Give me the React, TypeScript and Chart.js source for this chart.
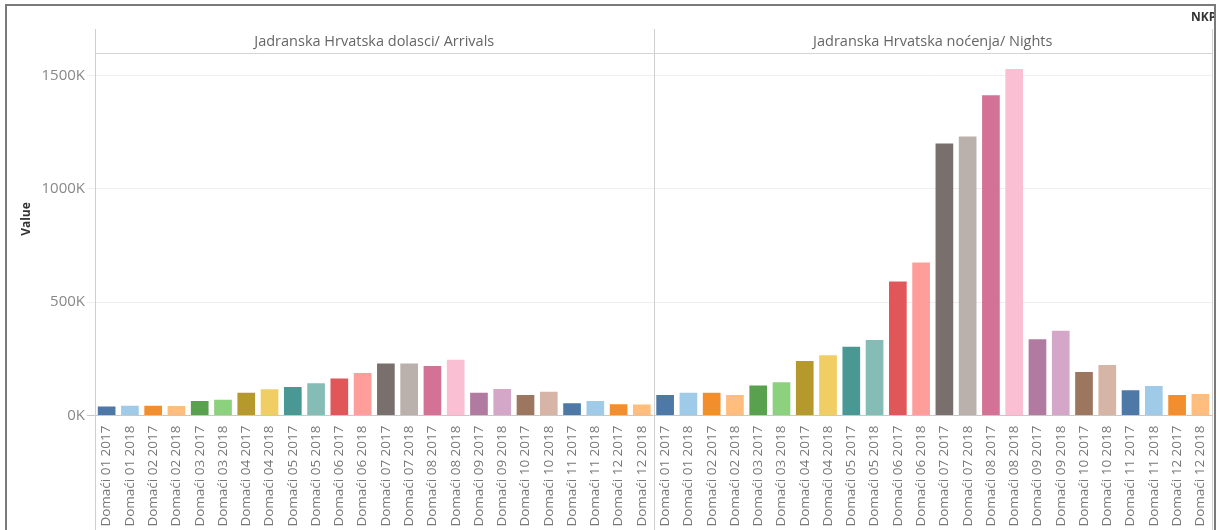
import React, { useEffect, useRef } from "react";
import { Chart, registerables } from "chart.js";

Chart.register(...registerables);

const months: string[] = [
  "Domaći 01 2017", "Domaći 01 2018", "Domaći 02 2017", "Domaći 02 2018",
  "Domaći 03 2017", "Domaći 03 2018", "Domaći 04 2017", "Domaći 04 2018",
  "Domaći 05 2017", "Domaći 05 2018", "Domaći 06 2017", "Domaći 06 2018",
  "Domaći 07 2017", "Domaći 07 2018", "Domaći 08 2017", "Domaći 08 2018",
  "Domaći 09 2017", "Domaći 09 2018", "Domaći 10 2017", "Domaći 10 2018",
  "Domaći 11 2017", "Domaći 11 2018", "Domaći 12 2017", "Domaći 12 2018",
];

const panels: string[] = [
  "Jadranska Hrvatska dolasci/ Arrivals",
  "Jadranska Hrvatska noćenja/ Nights",
];

// values in thousands
const arrivals: number[] = [40, 43, 43, 42, 64, 70, 100, 116, 126, 142, 163, 188, 229, 229, 219, 246, 100, 117, 91, 105, 54, 64, 50, 49];
const nights: number[] = [91, 100, 100, 91, 132, 147, 241, 266, 303, 333, 591, 675, 1201, 1232, 1414, 1529, 337, 374, 192, 223, 111, 130, 91, 95];

const yTicks: number[] = [0, 500000, 1000000, 1500000];

const palette: string[] = [
  "#4E79A7", "#A0CBE8", "#F28E2B", "#FFBE7D", "#59A14F", "#8CD17D",
  "#B6992D", "#F1CE63", "#499894", "#86BCB6", "#E15759", "#FF9D9A",
  "#79706E", "#BAB0AC", "#D37295", "#FABFD2", "#B07AA1", "#D4A6C8",
  "#9D7660", "#D7B5A6", "#4E79A7", "#A0CBE8", "#F28E2B", "#FFBE7D",
];

const FONT = "'Open Sans', 'Noto Sans', sans-serif";

export default function App() {
  const ref = useRef<HTMLCanvasElement | null>(null);

  useEffect(() => {
    if (!ref.current) return;
    const labels = [...months, ...months];
    const values = [...arrivals, ...nights].map((v) => v * 1000);
    const colors = [...palette, ...palette];

    const decor = {
      id: "decor",
      afterDraw(chart: any) {
        const ctx = chart.ctx;
        const area = chart.chartArea;
        const x = chart.scales.x;
        const half = x.getPixelForValue(months.length - 0.5);
        const W = chart.width;
        const H = chart.height;
        ctx.save();
        // header bottom line
        ctx.strokeStyle = "#d4d4d4";
        ctx.lineWidth = 1;
        ctx.beginPath();
        ctx.moveTo(area.left, Math.round(area.top) + 0.5);
        ctx.lineTo(area.right, Math.round(area.top) + 0.5);
        ctx.stroke();
        // vertical lines
        ctx.strokeStyle = "#cfcfcf";
        [area.left, half, area.right].forEach((px: number) => {
          ctx.beginPath();
          ctx.moveTo(Math.round(px) + 0.5, 29);
          ctx.lineTo(Math.round(px) + 0.5, H);
          ctx.stroke();
        });
        // headers
        ctx.fillStyle = "#666";
        ctx.font = "14.5px " + FONT;
        ctx.textAlign = "center";
        ctx.textBaseline = "middle";
        ctx.fillText(panels[0], (area.left + half) / 2, 42);
        ctx.fillText(panels[1], (half + area.right) / 2, 42);
        // y title
        ctx.save();
        ctx.translate(27, 219);
        ctx.rotate(-Math.PI / 2);
        ctx.fillStyle = "#333";
        ctx.font = "bold 12px " + FONT;
        ctx.fillText("Value", 0, 0);
        ctx.restore();
        // NKP
        ctx.save();
        ctx.beginPath();
        ctx.rect(0, 0, W - 6, H);
        ctx.clip();
        ctx.fillStyle = "#333";
        ctx.font = "bold 12px " + FONT;
        ctx.textAlign = "left";
        ctx.fillText("NKP", 1191, 18);
        ctx.restore();
        // outer frame
        ctx.strokeStyle = "#7a7a7a";
        ctx.lineWidth = 2;
        ctx.beginPath();
        ctx.moveTo(6, H);
        ctx.lineTo(6, 5);
        ctx.lineTo(W - 5, 5);
        ctx.lineTo(W - 5, H);
        ctx.stroke();
        ctx.restore();
      },
    };

    const chart = new Chart(ref.current, {
      type: "bar",
      data: {
        labels,
        datasets: [
          {
            data: values,
            backgroundColor: colors,
            borderWidth: 0,
            barPercentage: 0.76,
            categoryPercentage: 1,
          },
        ],
      },
      options: {
        animation: false,
        responsive: false,
        layout: { padding: { left: 0, top: 53, right: 8, bottom: 0 } },
        plugins: { legend: { display: false }, tooltip: { enabled: false } },
        scales: {
          x: {
            afterFit(scale: any) {
              scale.height = 114.5;
            },
            grid: { display: false },
            border: { display: false },
            ticks: {
              autoSkip: false,
              minRotation: 90,
              maxRotation: 90,
              padding: 2,
              color: "#777",
              font: { family: FONT, size: 13.5 },
            },
          },
          y: {
            min: 0,
            max: 1600000,
            afterFit(scale: any) {
              scale.width = 95;
            },
            afterBuildTicks(scale: any) {
              scale.ticks = yTicks.map((v) => ({ value: v }));
            },
            border: { display: false },
            grid: {
              color: (c: any) => (c.tick && c.tick.value === 0 ? "#c8c8c8" : "#eeeeee"),
              tickLength: 8,
              drawTicks: true,
            },
            ticks: {
              padding: 2,
              color: "#888",
              font: { family: FONT, size: 15 },
              callback: (v: any) => Math.round(Number(v) / 1000) + "K",
            },
          },
        },
      },
      plugins: [decor],
    });
    return () => chart.destroy();
  }, []);

  return (
    <div style={{ position: "absolute", left: 0, top: 0, width: 1220, height: 530, background: "#fff" }}>
      <canvas ref={ref} width={1220} height={530} />
    </div>
  );
}
